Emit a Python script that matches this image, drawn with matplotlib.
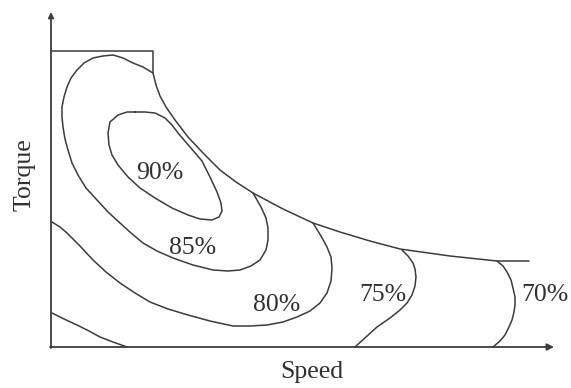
import matplotlib
matplotlib.use("Agg")
import matplotlib.pyplot as plt

# Efficiency map of a traction motor: speed on x, torque on y (arbitrary units).
# Every curve is given as (speed, torque) pairs.

# Maximum torque envelope (constant torque, then constant power region)
env_speed = [0, 102, 102, 105, 109, 115, 124, 137, 153, 169, 185, 202, 232, 262,
             289, 319, 349, 399, 446, 478]
env_torque = [296, 296, 274, 262, 251, 240, 227, 210, 193, 177, 165, 154, 138, 124,
              115, 106, 98, 91, 86, 86]

# 90 % island
eff90_speed = [84, 94, 104, 114, 121, 127, 139, 151, 159, 166, 170, 171, 168, 161,
               149, 137, 121, 104, 89, 77, 67, 61, 58, 57, 59, 67, 76, 84]
eff90_torque = [235, 235, 234, 229, 222, 214, 200, 186, 170, 155, 144, 136, 130, 127,
                128, 132, 139, 149, 159, 170, 182, 192, 202, 214, 225, 232, 235, 235]

# 85 % contour
eff85_speed = [102, 92, 82, 72, 62, 52, 42, 33, 26, 20, 16, 13, 11, 11, 12, 14, 17,
               21, 27, 35, 46, 57, 69, 80, 92, 106, 122, 142, 162, 177, 189, 200,
               209, 215, 217, 217, 215, 210, 202]
eff85_torque = [274, 280, 284, 289, 292, 291, 289, 284, 277, 269, 260, 250, 240, 230,
                220, 208, 197, 184, 172, 159, 147, 135, 124, 114, 104, 96, 89, 82,
                77, 76, 77, 81, 87, 97, 107, 119, 129, 140, 154]

# 80 % contour
eff80_speed = [1, 9, 16, 29, 42, 55, 69, 84, 99, 117, 137, 159, 182, 199, 216, 232,
               246, 259, 269, 276, 280, 281, 280, 276, 270, 262]
eff80_torque = [125, 120, 114, 101, 87, 75, 64, 54, 45, 38, 32, 26, 21, 21, 22, 25,
                30, 36, 44, 54, 66, 79, 90, 100, 111, 124]

# 75 % contour
eff75_speed = [304, 315, 326, 339, 349, 356, 361, 364, 365, 364, 362, 357, 351]
eff75_torque = [0, 10, 20, 29, 37, 44, 52, 61, 70, 78, 84, 91, 97]

# 70 % contour
eff70_speed = [442, 449, 454, 458, 461, 463, 464, 464, 462, 460, 456, 452, 446]
eff70_torque = [0, 6, 12, 20, 27, 35, 42, 50, 59, 67, 75, 81, 86]

# lowest contour near the origin (unlabelled)
eff_low_speed = [1, 13, 26, 38, 49, 62, 76]
eff_low_torque = [34, 28, 22, 16, 10, 5, 0]

labels = ["90%", "85%", "80%", "75%", "70%"]
label_speed = [109, 142, 226, 332, 494]
label_torque = [174, 99, 42, 52, 52]

line_color = "#3c3c3c"
text_color = "#303030"
serif = ["Liberation Serif", "DejaVu Serif"]

fig = plt.figure(figsize=(5.71, 3.88), dpi=100)
ax = fig.add_axes([0, 0, 1, 1])
ax.set_xlim(-51, 520)
ax.set_ylim(-41, 347)
ax.axis("off")

# axes with arrow heads
ax.annotate("", xy=(503, 0), xytext=(-1, 0),
            arrowprops=dict(arrowstyle="-|>", color=line_color, lw=1.3,
                            mutation_scale=10, shrinkA=0, shrinkB=0))
ax.annotate("", xy=(0, 335), xytext=(0, -1),
            arrowprops=dict(arrowstyle="-|>", color=line_color, lw=1.3,
                            mutation_scale=8, shrinkA=0, shrinkB=0))

curves = [
    (env_speed, env_torque),
    (eff90_speed, eff90_torque),
    (eff85_speed, eff85_torque),
    (eff80_speed, eff80_torque),
    (eff75_speed, eff75_torque),
    (eff70_speed, eff70_torque),
    (eff_low_speed, eff_low_torque),
]
for xs, ys in curves:
    ax.plot(xs, ys, color=line_color, lw=1.1, solid_joinstyle="round",
            solid_capstyle="round")

for txt, xs, ys in zip(labels, label_speed, label_torque):
    ax.text(xs, ys, txt, ha="center", va="center", fontsize=18.5,
            family=serif, color=text_color)

ax.text(261, -25, "Speed", ha="center", va="center", fontsize=18.5,
        family=serif, color=text_color)
ax.text(-26, 172, "Torque", ha="center", va="center", rotation=90,
        fontsize=18.5, family=serif, color=text_color)

fig.savefig("out.png", dpi=100)
